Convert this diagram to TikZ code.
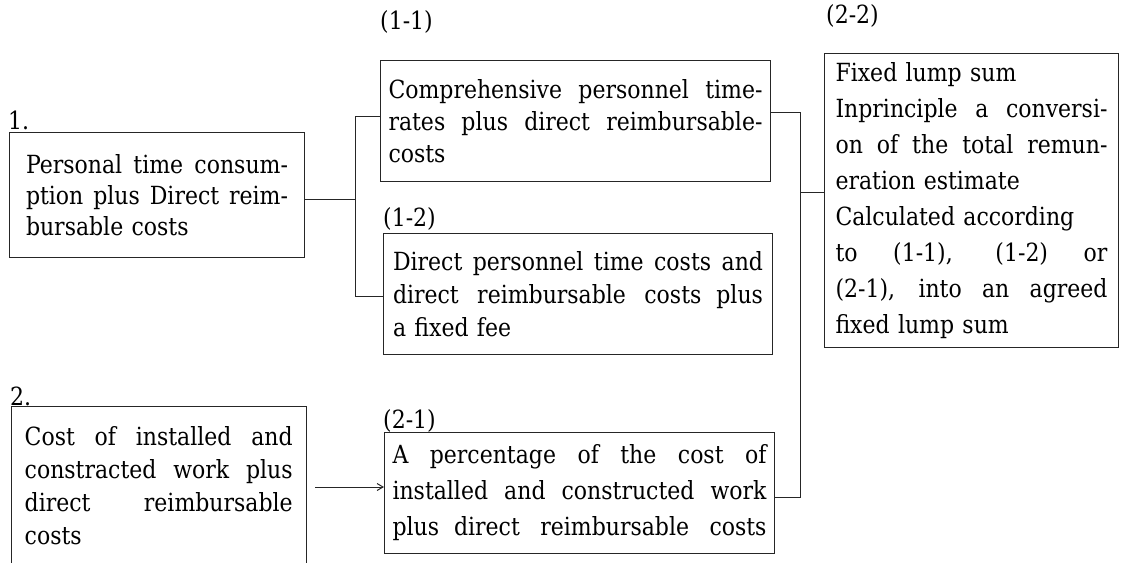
\documentclass[tikz,border=0pt]{standalone}
\usepackage{fontspec}
\setmainfont{DejaVu Serif}[FakeStretch=0.88]
\usetikzlibrary{arrows.meta}
\newcommand{\jbox}[1]{\leavevmode\hbox to \hsize{\spaceskip=0.3em plus 1fil minus 0.1em\relax #1}}
\newcommand{\jl}[1]{\jbox{#1}\\}
\newcommand{\gap}{\hskip 0.6em\relax}
\begin{document}
\begin{tikzpicture}[x=1pt,y=-1pt,
  box/.style={draw=black!85, line width=1pt, rectangle, inner sep=0pt, anchor=north west},
  lbl/.style={inner sep=0pt, anchor=west, font=\fontsize{25}{30}\selectfont},
  con/.style={draw=black!85, line width=1pt},
  arr/.style={con, -{Straight Barb[length=6pt,width=7pt]}}
]
\useasboundingbox (0,0) rectangle (1121,562);

% labels
\node[lbl] (l1) at (8,120) {1.};
\node[lbl] (l11) at (380,22) {(1-1)};
\node[lbl] (l12) at (383,219) {(1-2)};
\node[lbl] (l22) at (826,16) {(2-2)};
\node[lbl] (l2) at (10,396) {2.};
\node[lbl] (l21) at (383,421) {(2-1)};

% boxes
\node[box, minimum width=295, minimum height=125, text width=262,
  font=\fontsize{25}{31}\selectfont] (b1) at (9,132)
  {\jl{Personal time consum-}\jl{ption plus Direct reim-}bursable costs};

\node[box, minimum width=390, minimum height=121, text width=374,
  font=\fontsize{25}{32}\selectfont] (b11) at (380,60)
  {\jl{Comprehensive personnel time-}\jl{rates plus direct reimbursable-}costs};

\node[box, minimum width=389, minimum height=121, text width=370,
  font=\fontsize{25}{33}\selectfont] (b12) at (383,233)
  {\jl{Direct personnel time costs and}\jl{direct reimbursable costs\gap plus}a fixed fee};

\node[box, minimum width=294, minimum height=294, text width=272,
  font=\fontsize{25}{36}\selectfont] (b22) at (824,53)
  {Fixed lump sum\\\jl{Inprinciple a conversi-}\jl{on of the total remun-}eration estimate\\Calculated according\\\jl{to (1-1), (1-2) or}\jl{(2-1), into an agreed}fixed lump sum};

\node[rectangle, inner sep=0pt, anchor=north west, minimum width=295, minimum height=159, text width=268,
  font=\fontsize{25}{33}\selectfont] (b2) at (11,406)
  {\jl{Cost of installed and}\jl{constracted work plus}\jl{direct reimbursable}costs};
\draw[con] (b2.south west) -- (b2.north west) -- (b2.north east) -- (b2.south east);

\node[box, minimum width=390, minimum height=121, text width=374,
  font=\fontsize{25}{36}\selectfont] (b21) at (384,432)
  {\jl{A percentage of the cost of}\jl{installed and constructed work}\jbox{plus\gap direct reimbursable costs}};

% bracket points
\coordinate (jL) at (355,199);
\coordinate (lt) at (355,116);
\coordinate (lb) at (355,296);
\coordinate (rt) at (800,112);
\coordinate (rm) at (800,192);
\coordinate (rb) at (800,497);
\coordinate (ay) at (0,487);

% connectors
\draw[con] (b1.east |- jL) -- (jL);
\draw[con] (b11.west |- lt) -- (lt) -- (lb) -- (b12.west |- lb);
\draw[con] (b11.east |- rt) -- (rt) -- (rb) -- (b21.east |- rb);
\draw[con] (rm) -- (b22.west |- rm);
\draw[arr, shorten <=9pt] (b2.east |- ay) -- (b21.west |- ay);
\end{tikzpicture}
\end{document}
